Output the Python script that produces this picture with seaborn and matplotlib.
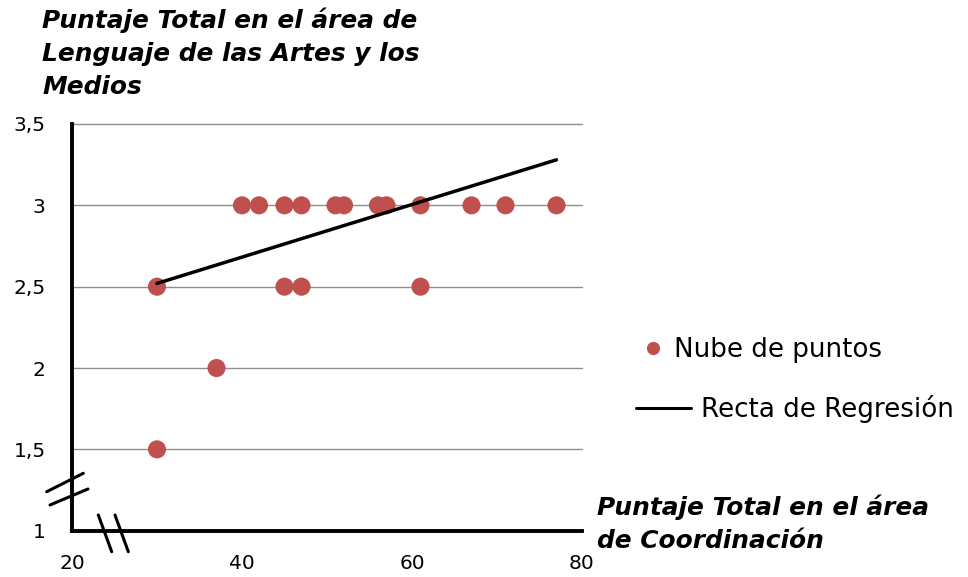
import matplotlib
matplotlib.use("Agg")
import matplotlib.pyplot as plt
import seaborn as sns
import pandas as pd
from matplotlib.lines import Line2D

# data
coord_scores = [30, 45, 47, 61,
                40, 42, 45, 47, 51, 52, 56, 57, 61, 67, 71, 77,
                37, 30]
arts_scores = [2.5, 2.5, 2.5, 2.5,
               3, 3, 3, 3, 3, 3, 3, 3, 3, 3, 3, 3,
               2, 1.5]
reg_x = [30, 77]
reg_y = [2.52, 3.28]
x_ticks = [20, 40, 60, 80]
y_ticks = [1, 1.5, 2, 2.5, 3, 3.5]
y_tick_labels = ["1", "1,5", "2", "2,5", "3", "3,5"]

title_lines = ["Puntaje Total en el área de", "Lenguaje de las Artes y los", "Medios"]
xlabel_lines = ["Puntaje Total en el área", "de Coordinación"]

sns.set_style("white")
plt.rcParams["font.family"] = ["DejaVu Sans"]
plt.rcParams["text.color"] = "black"
plt.rcParams["xtick.color"] = "black"
plt.rcParams["ytick.color"] = "black"

W, H = 968, 577
fig = plt.figure(figsize=(W / 100, H / 100), dpi=100)
ax = fig.add_axes([72 / W, 1 - 530.7 / H, (582 - 72) / W, (530.7 - 124) / H])

df = pd.DataFrame({"x": coord_scores, "y": arts_scores})
point_color = "#C0504D"
sns.scatterplot(data=df, x="x", y="y", ax=ax, color=point_color, s=170,
                edgecolor="none", legend=False, zorder=3)
sns.lineplot(x=reg_x, y=reg_y, ax=ax, color="black", lw=2.5, zorder=4)

ax.set_xlim(20, 80)
ax.set_ylim(1, 3.5)
ax.set_xticks(x_ticks)
ax.set_xticklabels([str(v) for v in x_ticks])
ax.set_yticks(y_ticks)
ax.set_yticklabels(y_tick_labels)
ax.set_xlabel("")
ax.set_ylabel("")

ax.yaxis.grid(True, color="#8f8f8f", lw=1.0)
for gl in ax.get_ygridlines():
    gl.set_clip_on(False)
ax.xaxis.grid(False)

for side in ["top", "right"]:
    ax.spines[side].set_visible(False)
for side in ["left", "bottom"]:
    ax.spines[side].set_color("black")
    ax.spines[side].set_linewidth(2.8)

ax.tick_params(axis="y", direction="out", length=5, width=2.2, color="black",
               labelcolor="black", labelsize=14.5, pad=14)
ax.tick_params(axis="x", direction="out", length=4, width=2.2, color="black",
               labelcolor="black", labelsize=14.5, pad=13)

# axis break marks
def fig_line(x0, y0, x1, y1):
    fig.add_artist(Line2D([x0 / W, x1 / W], [1 - y0 / H, 1 - y1 / H],
                          color="black", lw=2.2, transform=fig.transFigure))

fig_line(46.7, 491.7, 83.3, 473.3)
fig_line(50, 505, 88, 489)
fig_line(98.3, 515, 111.7, 551.7)
fig_line(115, 515, 128.3, 551.7)

# titles
for i, line in enumerate(title_lines):
    fig.text(42 / W, 1 - (28 + 33 * i) / H, line, fontsize=17.9, color="black",
             fontweight="bold", fontstyle="italic", va="baseline", ha="left")
for i, line in enumerate(xlabel_lines):
    fig.text(597 / W, 1 - (515 + 33 * i) / H, line, fontsize=17.9, color="black",
             fontweight="bold", fontstyle="italic", va="baseline", ha="left")

# legend, two separate entries as in the reference
pts_handle = Line2D([], [], marker="o", ls="none", color=point_color,
                    markersize=9.5, markeredgewidth=0)
reg_handle = Line2D([], [], color="black", lw=2.2)
leg1 = ax.legend(handles=[pts_handle], labels=["Nube de puntos"], loc="center left",
                 bbox_to_anchor=(641.5 / W, 1 - 350 / H), bbox_transform=fig.transFigure,
                 frameon=False, fontsize=18.8, handlelength=0.85, handletextpad=0.4,
                 borderpad=0, borderaxespad=0, labelcolor="black")
ax.add_artist(leg1)
ax.legend(handles=[reg_handle], labels=["Recta de Regresión"], loc="center left",
          bbox_to_anchor=(636 / W, 1 - 409 / H), bbox_transform=fig.transFigure,
          frameon=False, fontsize=18.8, handlelength=2.1, handletextpad=0.4,
          borderpad=0, borderaxespad=0, labelcolor="black")

fig.savefig("out.png", dpi=100)
plt.close("all")
